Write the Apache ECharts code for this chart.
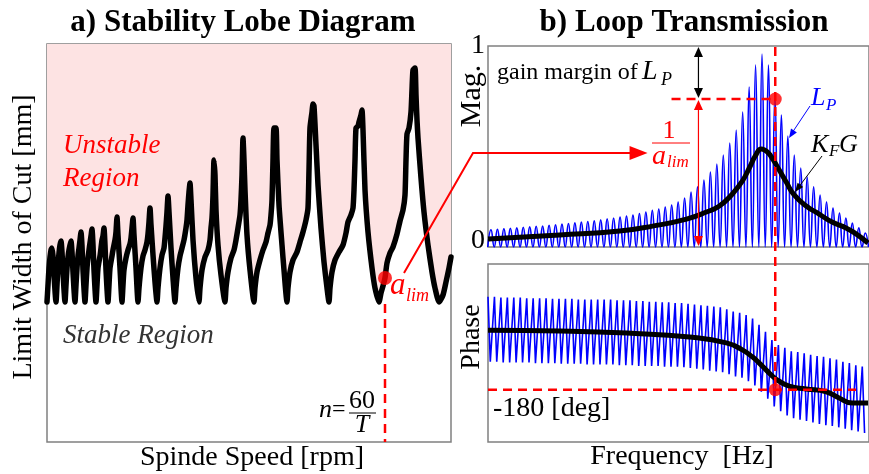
<!DOCTYPE html>
<html><head><meta charset="utf-8">
<script src="https://cdn.jsdelivr.net/npm/echarts@6/dist/echarts.min.js"></script>
<style>html,body{margin:0;padding:0;background:#fff}#c{width:869px;height:474px}</style>
</head><body><div id="c"></div>
<script>
// ---------- a) Stability lobe diagram: [spindle speed, limit width of cut] (arbitrary units) ----------
const lobeCurve = [
 [0,140],
 [1,157],[2,174],[3,185],[4,192],[5,194],[6,186],[7,167],[9,140],
 [10,157],[11,176],[12,189],[13,197],[14,201],[15,190],[16,170],[18,140],
 [19,157],[20,174],[21,185],[22,192],[23,197],[24,201],[25,190],[26,170],[28,140],
 [29,157],[30,174],[31,186],[32,194],[33,202],[34,210],[35,196],[36,172],[38,140],
 [39,157],[40,174],[41,184],[42,192],[43,199],[44,206],[45,213],[46,197],[47,172],[49,140],
 [50,157],[51,174],[53,186],[54,194],[55,202],[56,206],[57,214],[58,197],[59,172],[61,140],
 [62,157],[63,174],[65,186],[66,192],[68,202],[69,210],[70,225],[71,207],[73,174],[75,140],
 [76,157],[77,172],[79,184],[81,192],[83,198],[84,204],[85,214],[86,224],[87,207],[89,174],[91,140],
 [92,154],[94,174],[96,186],[98,192],[100,200],[101,208],[102,220],[103,234],[104,217],[106,187],[108,160],[110,140],
 [111,154],[113,174],[115,187],[117,194],[118,204],[119,216],[120,230],[121,246],[122,230],[124,194],[126,164],[128,140],
 [129,154],[131,174],[133,186],[135,194],[137,202],[139,214],[140,222],[141,237],[142,250],[143,259],[144,242],[146,202],[149,164],[152,140],
 [153,154],[155,172],[158,185],[161,192],[163,202],[164,214],[165,224],[166,247],[167,282],[168,267],[169,232],[171,197],[174,167],[178,140],
 [179,154],[181,170],[184,184],[187,192],[189,202],[191,214],[193,227],[194,242],[195,267],[196,304],[197,282],[198,252],[200,207],[203,172],[207,140],
 [208,154],[210,170],[213,182],[216,192],[219,200],[221,209],[223,217],[224,227],[225,242],[226,282],[227,314],[229,314],[230,282],[232,237],[235,197],[237,172],[240,140],
 [241,154],[243,170],[246,182],[250,190],[253,200],[256,210],[259,222],[261,234],[262,272],[263,314],[265,330],[266,338],[267,336],[269,297],[271,257],[274,214],[277,180],[280,154],[282,140],
 [283,154],[285,170],[288,182],[292,190],[296,197],[299,209],[301,220],[304,227],[306,234],[307,252],[308,282],[309,314],[311,316],[312,320],[314,327],[315,332],[316,312],[318,252],[321,210],[325,174],[328,154],[332,140],
 [334,149],[336,156],[338,164],[340,179],[343,189],[346,195],[350,208],[353,221],[356,232],[358,247],[359,282],[360,308],[362,314],[364,330],[365,352],[366,372],[368,374],[369,347],[370,322],[371,304],[374,264],[377,230],[381,197],[385,170],[388,154],[392,140],
 [396,147],[399,160],[402,174],[404,185]
];
const alimPoint = [338, 164];     // chosen speed n = 60/T on the lobe
const speedMax = 404, widthMax = 398;

// ---------- b) Loop transmission ----------
const freqMax = 382;
const toothStep = 6.47, toothOffset = 3;
// |L_P| peak of each tooth (normalised magnitude)
const lpPeak = [0.085,0.088,0.091,0.093,0.095,0.098,0.100,0.103,0.104,0.108,
 0.111,0.114,0.117,0.120,0.124,0.127,0.130,0.135,0.140,0.144,
 0.149,0.154,0.159,0.167,0.174,0.182,0.189,0.199,0.209,0.224,
 0.244,0.274,0.299,0.333,0.373,0.413,0.458,0.517,0.582,0.672,
 0.796,0.905,0.960,0.905,0.760,0.657,0.552,0.458,0.393,0.348,
 0.299,0.259,0.224,0.194,0.169,0.144,0.119,0.095,0.070];
// |K_F G|
const kfgFreq = [0,72,132,165,199,219,232,245,255,262,268,274,280,286,292,299,307,319,332,345,359,369,381];
const kfgMag  = [0.040,0.060,0.080,0.104,0.139,0.174,0.204,0.264,0.328,0.393,0.453,0.488,0.473,0.433,0.383,0.323,0.259,0.204,0.164,0.124,0.095,0.065,0.020];
// phase of L_P (deg): upper / lower end of each tooth
const phaseUpper = [-47,-47,-48,-48,-48,-48,-49,-49,-49,-49,
 -50,-50,-50,-50,-51,-51,-51,-51,-51,-51,
 -52,-52,-52,-53,-53,-54,-54,-55,-55,-56,
 -56,-57,-58,-59,-60,-61,-62,-65,-68,-70,
 -73,-78,-87,-97,-109,-116,-120,-125,-126,-128,
 -130,-132,-133,-135,-137,-140,-142,-145,-147];
const phaseLower = [-140,-140,-141,-141,-141,-141,-141,-142,-142,-142,
 -142,-143,-143,-143,-143,-144,-144,-144,-144,-144,
 -145,-145,-145,-146,-146,-146,-146,-147,-147,-147,
 -148,-149,-150,-151,-153,-154,-155,-158,-161,-163,
 -168,-174,-183,-193,-204,-211,-217,-221,-223,-225,
 -227,-229,-231,-232,-234,-236,-238,-240,-242];
// phase of K_F G (deg)
const kfgPhaseFreq = [0,72,139,205,239,255,265,272,279,289,302,319,339,352,365,381];
const kfgPhase = [-95,-96,-99,-105,-113,-123,-133,-142,-152,-165,-175,-179,-183,-192,-199,-199];
const phaseMin = -255, phaseMax = 0;
const critFreq = 288, critMag = 0.736, critPhase = -180, marginFreq = 211, dashStartFreq = 184, phaseDashEnd = 369;

// ---------- build series data ----------
const lpData = [];
lpPeak.forEach((p, i) => { const f = toothOffset + toothStep * i; lpData.push([f - toothStep / 2, 0]); lpData.push([f, p]); });
lpData.push([toothOffset + toothStep * (lpPeak.length - 1) + toothStep / 2, 0]);
const phaseData = [];
phaseUpper.forEach((u, i) => { const f = toothStep * i; phaseData.push([f, u]); phaseData.push([f + 2.3, phaseLower[i]]); });
const kfgData = kfgFreq.map((f, i) => [f, kfgMag[i]]);
const kfgPhaseData = kfgPhaseFreq.map((f, i) => [f, kfgPhase[i]]);

const serif = '"Liberation Serif","Times New Roman",serif';
const RED = '#ff0000', BLUE = '#0000ff', BORDER = '#808080';
const chart = echarts.init(document.getElementById('c'), null, {renderer: 'canvas'});
const gridBase = {show: true, borderColor: BORDER, borderWidth: 1.5, backgroundColor: 'transparent'};
const noAxis = {show: false};
chart.setOption({
  animation: false,
  grid: [
    Object.assign({left: 47, top: 44, width: 404, height: 398}, gridBase),
    Object.assign({left: 488, top: 46, width: 382, height: 201}, gridBase),
    Object.assign({left: 488, top: 264, width: 382, height: 178}, gridBase)
  ],
  xAxis: [
    {gridIndex: 0, type: 'value', min: 0, max: speedMax, ...noAxis},
    {gridIndex: 1, type: 'value', min: 0, max: freqMax, ...noAxis},
    {gridIndex: 2, type: 'value', min: 0, max: freqMax, ...noAxis}
  ],
  yAxis: [
    {gridIndex: 0, type: 'value', min: 0, max: widthMax, ...noAxis},
    {gridIndex: 1, type: 'value', min: 0, max: 1, interval: 1,
      axisLine: {show: false}, axisTick: {show: false}, splitLine: {show: false},
      axisLabel: {show: true, margin: 3, fontSize: 28, fontFamily: serif, color: '#000',
        formatter: v => v === 0 ? '{z|0}' : '{o|1}',
        rich: {z: {fontSize: 28, fontFamily: serif, padding: [0, 0, 12, 0]}, o: {fontSize: 28, fontFamily: serif}}}},
    {gridIndex: 2, type: 'value', min: phaseMin, max: phaseMax, ...noAxis}
  ],
  series: [
    {type: 'line', xAxisIndex: 0, yAxisIndex: 0, data: lobeCurve, showSymbol: false, smooth: 0.2,
      lineStyle: {color: '#000', width: 5.5, join: 'round', cap: 'round'},
      areaStyle: {origin: 'end', color: '#fde3e3', opacity: 1}},
    {type: 'line', xAxisIndex: 0, yAxisIndex: 0, data: [[alimPoint[0], 138], [alimPoint[0], 0]], showSymbol: false,
      lineStyle: {color: RED, width: 2.5, type: [9, 6]}},
    {type: 'scatter', xAxisIndex: 0, yAxisIndex: 0, data: [alimPoint], symbolSize: 14, itemStyle: {color: RED}, z: 5},
    {type: 'line', xAxisIndex: 1, yAxisIndex: 1, data: lpData, showSymbol: false, smooth: 0.5,
      lineStyle: {color: BLUE, width: 1.6}},
    {type: 'line', xAxisIndex: 1, yAxisIndex: 1, data: kfgData, showSymbol: false, smooth: 0.5,
      lineStyle: {color: '#000', width: 5}},
    {type: 'line', xAxisIndex: 1, yAxisIndex: 1, data: [[dashStartFreq, critMag], [critFreq, critMag]], showSymbol: false,
      lineStyle: {color: RED, width: 2.5, type: [9, 6]}},
    {type: 'scatter', xAxisIndex: 1, yAxisIndex: 1, data: [[critFreq, critMag]], symbolSize: 13, itemStyle: {color: RED}, z: 5},
    {type: 'line', xAxisIndex: 2, yAxisIndex: 2, data: phaseData, showSymbol: false,
      lineStyle: {color: BLUE, width: 1.6}},
    {type: 'line', xAxisIndex: 2, yAxisIndex: 2, data: kfgPhaseData, showSymbol: false, smooth: 0.5,
      lineStyle: {color: '#000', width: 5}},
    {type: 'line', xAxisIndex: 2, yAxisIndex: 2, data: [[0, critPhase], [phaseDashEnd, critPhase]], showSymbol: false,
      lineStyle: {color: RED, width: 2.5, type: [9, 6]}},
    {type: 'scatter', xAxisIndex: 2, yAxisIndex: 2, data: [[critFreq, critPhase]], symbolSize: 13, itemStyle: {color: RED}, z: 5}
  ]
});

// ---------- annotations ----------
const P0 = v => chart.convertToPixel({gridIndex: 0}, v);
const P1 = v => chart.convertToPixel({gridIndex: 1}, v);
const P2 = v => chart.convertToPixel({gridIndex: 2}, v);
function txt(x, y, text, size, o = {}) {
  return {type: 'text', x, y, rotation: o.rot || 0, z: 100,
    style: {x: 0, y: 0, text, fontSize: size, fontFamily: serif, fontStyle: o.italic ? 'italic' : 'normal',
      fontWeight: o.bold ? 'bold' : 'normal', fill: o.color || '#000', align: o.align || 'left', verticalAlign: 'middle'}};
}
function seg(a, b, color, width, dash) {
  return {type: 'line', z: 90, shape: {x1: a[0], y1: a[1], x2: b[0], y2: b[1]},
    style: {stroke: color, lineWidth: width, lineDash: dash || null}};
}
function head(tip, from, len, hw, color) {
  const dx = tip[0] - from[0], dy = tip[1] - from[1], d = Math.hypot(dx, dy), ux = dx / d, uy = dy / d;
  const bx = tip[0] - ux * len, by = tip[1] - uy * len;
  return {type: 'polygon', z: 95, shape: {points: [tip, [bx - uy * hw, by + ux * hw], [bx + uy * hw, by - ux * hw]]}, style: {fill: color}};
}
const g = [];
// titles & axis names
g.push(txt(243, 23, 'a) Stability Lobe Diagram', 31, {bold: true, align: 'center'}));
g.push(txt(684, 23, 'b) Loop Transmission', 31, {bold: true, align: 'center'}));
g.push(txt(24, 237, 'Limit Width of Cut [mm]', 28, {align: 'center', rot: Math.PI / 2}));
g.push(txt(252, 458, 'Spinde Speed [rpm]', 28, {align: 'center'}));
g.push(txt(682, 457, 'Frequency  [Hz]', 28, {align: 'center'}));
g.push(txt(472, 96, 'Mag.', 30, {align: 'center', rot: Math.PI / 2}));
g.push(txt(472, 337, 'Phase', 28, {align: 'center', rot: Math.PI / 2}));
// region labels
g.push(txt(63, 146, 'Unstable', 27, {italic: true, color: RED}));
g.push(txt(63, 179, 'Region', 27, {italic: true, color: RED}));
g.push(txt(63, 336, 'Stable Region', 27, {italic: true, color: '#333'}));
// a_lim label
const ap = P0(alimPoint);
g.push(txt(ap[0] + 5, ap[1] + 8, 'a', 31, {italic: true, color: RED}));
g.push(txt(ap[0] + 21, ap[1] + 18, 'lim', 18, {italic: true, color: RED}));
// n = 60/T
const nb = P0([alimPoint[0], 29]);
g.push(txt(nb[0] - 66, nb[1] - 3, 'n', 26, {italic: true}));
g.push(txt(nb[0] - 53, nb[1] - 3, '=', 24));
g.push(txt(nb[0] - 23, nb[1] - 12, '60', 26, {align: 'center'}));
g.push(seg([nb[0] - 36, nb[1]], [nb[0] - 9, nb[1]], '#000', 1));
g.push(txt(nb[0] - 23, nb[1] + 12, 'T', 26, {italic: true, align: 'center'}));
// red connector from a_lim to 1/a_lim
const c0 = P0([357, 169]);
const c2 = P1([160, 0.468]);
const c1 = [c0[0] + 69, c2[1]];
g.push({type: 'polyline', z: 90, shape: {points: [c0, c1, [c2[0] - 12, c2[1]]]}, style: {stroke: RED, lineWidth: 2, fill: null}});
g.push(head(c2, [c2[0] - 20, c2[1]], 18, 7, RED));
// vertical critical dashed line through both panels
const v0 = P1([critFreq, 1]);
const v1 = P2([critFreq, critPhase]);
g.push(seg([v0[0], v0[1] + 1], v1, RED, 2.5, [9, 6]));
// gain margin arrows
const m1 = P1([marginFreq, 1]), mc = P1([marginFreq, critMag]), m0 = P1([marginFreq, 0]);
g.push(seg([m1[0], m1[1] + 6], [mc[0], mc[1] - 6], '#000', 1.2));
g.push(head([m1[0], m1[1] + 1], [m1[0], m1[1] + 20], 10, 4.5, '#000'));
g.push(head([mc[0], mc[1] - 1], [mc[0], mc[1] - 20], 10, 4.5, '#000'));
g.push(seg([mc[0], mc[1] + 6], [m0[0], m0[1] - 6], RED, 1.2));
g.push(head([mc[0], mc[1] + 1], [mc[0], mc[1] + 20], 10, 4.5, RED));
g.push(head([m0[0], m0[1] - 1], [m0[0], m0[1] - 20], 10, 4.5, RED));
g.push(txt(497, 73, 'gain margin of', 24));
g.push(txt(642, 72, 'L', 28, {italic: true}));
g.push(txt(661, 80, 'P', 18, {italic: true}));
// 1/a_lim
g.push(txt(669, 131, '1', 26, {color: RED, align: 'center'}));
g.push(seg([652, 143], [690, 143], RED, 1));
g.push(txt(652, 157, 'a', 28, {italic: true, color: RED}));
g.push(txt(667, 163, 'lim', 17, {italic: true, color: RED}));
// curve labels
g.push(txt(811, 98, 'L', 26, {italic: true, color: BLUE}));
g.push(txt(826, 106, 'P', 17, {italic: true, color: BLUE}));
g.push(seg([810, 106], [792, 133], BLUE, 1));
g.push(head([789, 138], [810, 106], 9, 3.5, BLUE));
g.push(txt(811, 145, 'K', 26, {italic: true}));
g.push(txt(829, 152, 'F', 17, {italic: true}));
g.push(txt(839, 145, 'G', 26, {italic: true}));
g.push(seg([822, 156], [798, 188], '#000', 1));
g.push(head([795, 192], [822, 156], 9, 3.5, '#000'));
// -180 label
g.push(txt(493, 409, '-180 [deg]', 28));
chart.setOption({graphic: g});
</script></body></html>
